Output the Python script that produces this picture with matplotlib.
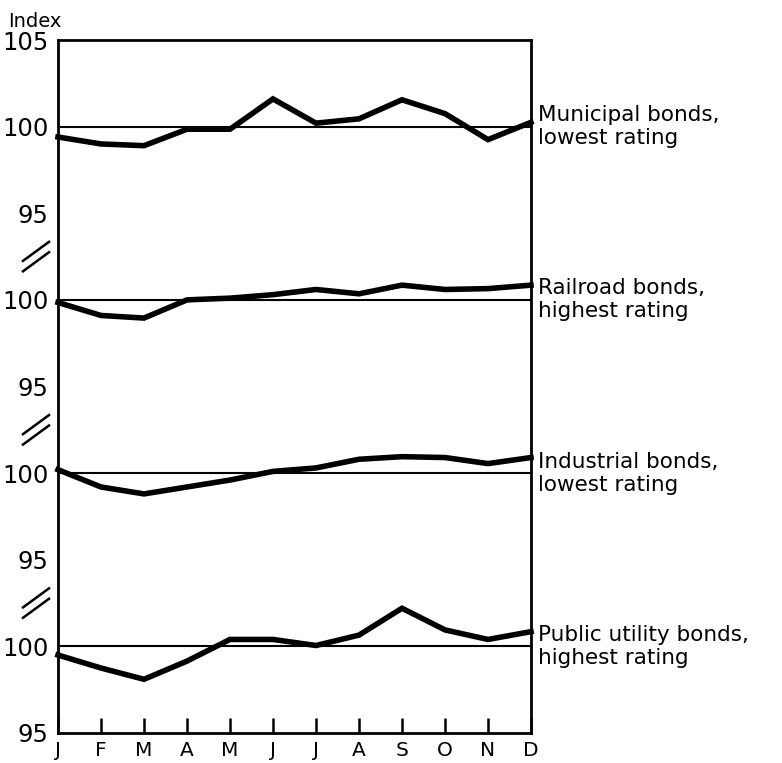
import numpy as np
import matplotlib
matplotlib.use("Agg")
import matplotlib.pyplot as plt
import matplotlib.transforms as mtransforms

# months along the bottom
months = ["J", "F", "M", "A", "M", "J", "J", "A", "S", "O", "N", "D"]

# seasonal index values (100 = average)
municipal = [99.4, 99.0, 98.9, 99.85, 99.85, 101.6, 100.2, 100.45, 101.55, 100.75, 99.25, 100.25]
railroad = [99.85, 99.1, 98.95, 100.0, 100.1, 100.3, 100.6, 100.35, 100.85, 100.6, 100.65, 100.85]
industrial = [100.2, 99.2, 98.8, 99.2, 99.6, 100.1, 100.3, 100.8, 100.95, 100.9, 100.55, 100.9]
utility = [99.5, 98.75, 98.1, 99.15, 100.4, 100.4, 100.05, 100.65, 102.2, 100.95, 100.4, 100.85]

labels = ["Municipal bonds,\nlowest rating",
          "Railroad bonds,\nhighest rating",
          "Industrial bonds,\nlowest rating",
          "Public utility bonds,\nhighest rating"]

# top to bottom
series = [municipal, railroad, industrial, utility]
n_panels = len(series)
span = 10  # each panel covers 95..105

fig = plt.figure(figsize=(7.82, 7.63), dpi=100)
ax = fig.add_axes([58 / 782, 1 - 733 / 763, 473 / 782, 693 / 763])

x = np.arange(len(months))
trans = mtransforms.blended_transform_factory(ax.transAxes, ax.transData)

for i, (vals, lab) in enumerate(zip(series, labels)):
    off = (n_panels - 1 - i) * span - 95  # shift each panel into its own band
    y = np.array(vals) + off
    ax.axhline(100 + off, color="black", lw=1.5, zorder=2)
    ax.plot(x, y, color="black", lw=4.0, solid_joinstyle="miter", zorder=3, clip_on=False)
    ax.text(1.015, 100 + off, lab, transform=trans, fontsize=15.5, va="center",
            ha="left", linespacing=1.2)

# break marks between panels
for k in range(1, n_panels):
    yb = k * span - 2.5
    for d in (-0.3, 0.3):
        ax.plot([-0.074, -0.019], [yb - 0.55 + d, yb + 0.55 + d], transform=trans,
                color="black", lw=1.8, clip_on=False)

ax.set_xlim(0, len(months) - 1)
ax.set_ylim(0, n_panels * span)

ax.set_xticks(x)
ax.set_xticklabels(months, fontsize=14.5)
ax.tick_params(axis="x", direction="in", length=11, width=1.8, pad=6, top=False)

ytick_pos = [0, 5, 10, 15, 20, 25, 30, 35, 40]
ytick_lab = ["95", "100", "95", "100", "95", "100", "95", "100", "105"]
ax.set_yticks(ytick_pos)
ax.set_yticklabels(ytick_lab, fontsize=17.5)
ax.tick_params(axis="y", which="major", length=0, pad=7)
ax.set_yticks([10, 20, 30], minor=True)
ax.tick_params(axis="y", which="minor", direction="in", length=12, width=1.8,
               left=True, right=True)

for s in ax.spines.values():
    s.set_linewidth(2.0)

fig.text(8 / 782, 1 - 27 / 763, "Index", fontsize=14, va="baseline", ha="left")

fig.savefig("out.png", dpi=100)
